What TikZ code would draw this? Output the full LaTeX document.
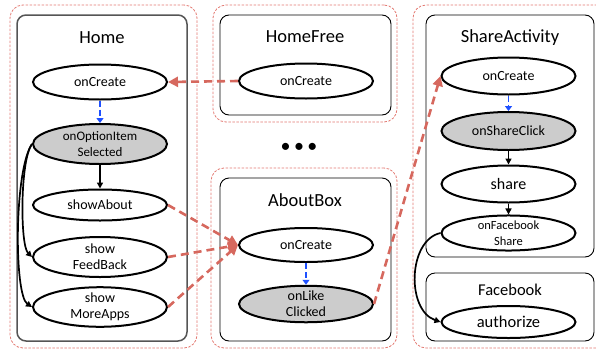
\documentclass[tikz,border=0pt]{standalone}
\usepackage{fontspec}
\setmainfont{Carlito}
\usepackage{tikz}
\usetikzlibrary{shapes.geometric, arrows.meta}

\definecolor{linkred}{RGB}{214,104,94}
\definecolor{grpred}{RGB}{226,120,112}
\definecolor{seqblue}{RGB}{30,80,255}
\definecolor{hotgray}{RGB}{204,204,204}
\definecolor{homegray}{RGB}{85,85,85}

\tikzset{
  evt/.style={ellipse, draw, line width=2pt, minimum width=134, minimum height=35,
    inner sep=0pt, align=center, font=\fontsize{14}{16}\selectfont},
  hot/.style={evt, fill=hotgray},
  comp/.style={draw, rounded corners=9pt, line width=0.9pt},
  grp/.style={draw=grpred, dash pattern=on 2.5pt off 1.5pt, rounded corners=13pt, line width=0.8pt},
  ttl/.style={font=\fontsize{18.5}{20}\selectfont},
  link/.style={draw=linkred, line width=2.6pt, dash pattern=on 8pt off 5pt,
    -{Triangle[length=10pt,width=10pt]}},
  seq/.style={draw=seqblue, line width=1.9pt, dash pattern=on 6pt off 3pt,
    -{Triangle[length=5pt,width=7pt]}},
  call/.style={draw, line width=1.7pt, -{Triangle[length=6pt,width=6pt]}}
}

\begin{document}
\begin{tikzpicture}[x=1pt, y=-1pt]
    \useasboundingbox (0,0) rectangle (596,351);

    % groups
    \node[grp, minimum width=187, minimum height=343] (homegrp) at (103.5,176.5) {};
    \node[grp, minimum width=184, minimum height=117] (freegrp) at (305,63.5) {};
    \node[grp, minimum width=186, minimum height=180] (aboutgrp) at (304,258) {};
    \node[grp, minimum width=197, minimum height=343] (sharegrp) at (511.5,176.5) {};

    % components
    \node[comp, draw=homegray, line width=1.5pt, minimum width=170, minimum height=326] (homebox) at (102,178) {};
    \node[comp, minimum width=171, minimum height=100] (freebox) at (305.5,65) {};
    \node[comp, minimum width=171, minimum height=163] (aboutbox) at (305.5,259.5) {};
    \node[comp, minimum width=168, minimum height=242] (sharebox) at (510,136) {};
    \node[comp, minimum width=168, minimum height=68] (fbbox) at (510,307) {};

    \node[ttl] (homettl) at (102,38) {Home};
    \node[ttl] (freettl) at (305,37) {HomeFree};
    \node[ttl] (aboutttl) at (305,200) {AboutBox};
    \node[ttl] (sharettl) at (510,38) {ShareActivity};
    \node[ttl, font=\fontsize{16.5}{18}\selectfont] (fbttl) at (510,290) {Facebook};

    % Home
    \node[evt] (hCreate) at (100,82) {onCreate};
    \node[hot, minimum height=40, font=\fontsize{13}{16}\selectfont] (hOption) at (100,144) {onOptionItem\\Selected};
    \node[evt, minimum height=31] (hAbout) at (100,205) {showAbout};
    \node[evt, minimum height=40] (hFeed) at (100,257) {show\\FeedBack};
    \node[evt, minimum height=39] (hMore) at (100,307) {show\\MoreApps};

    % HomeFree
    \node[evt] (hfCreate) at (306,81) {onCreate};

    \node[font=\fontsize{20}{20}\selectfont] (dots) at (299,148) {\textbullet\,\textbullet\,\textbullet};

    % AboutBox
    \node[evt, minimum height=34] (abCreate) at (306,245) {onCreate};
    \node[hot, minimum height=36] (abLike) at (306,304) {onLike\\Clicked};

    % ShareActivity
    \node[evt, minimum height=37] (saCreate) at (508.5,76) {onCreate};
    \node[hot, minimum height=38] (saClick) at (508.5,131) {onShareClick};
    \node[evt, minimum height=37, font=\fontsize{16}{18}\selectfont] (saShare) at (508.5,184) {share};
    \node[evt, minimum height=35, font=\fontsize{12.5}{16}\selectfont] (saFb) at (508.5,233) {onFacebook\\Share};

    % Facebook
    \node[evt, minimum height=32, font=\fontsize{16.5}{18}\selectfont] (fbAuth) at (508.5,322) {authorize};

    % flows inside components
    \draw[seq] (hCreate) -- (hOption);
    \draw[call] (hOption) -- (hAbout);
    \draw[call] (hOption.west) .. controls (20,160) and (20,245) .. (hFeed.west);
    \draw[call] (hOption.west) .. controls (14,170) and (14,295) .. (hMore.west);
    \draw[seq] (abCreate) -- (abLike);
    \draw[seq] (saCreate) -- (saClick);
    \draw[call] (saClick) -- (saShare);
    \draw[call] (saShare) -- (saFb);
    \draw[call] (saFb.west) .. controls (408,240) and (406,310) .. (fbAuth.west);

    % links between components
    \draw[link] (hfCreate.west) -- (hCreate.east);
    \draw[link] (hAbout.east) -- (abCreate.west);
    \draw[link] (hFeed.east) -- (abCreate.west);
    \draw[link] (hMore.east) -- (abCreate.west);
    \draw[link] (abLike.east) -- (saCreate.west);
\end{tikzpicture}
\end{document}
